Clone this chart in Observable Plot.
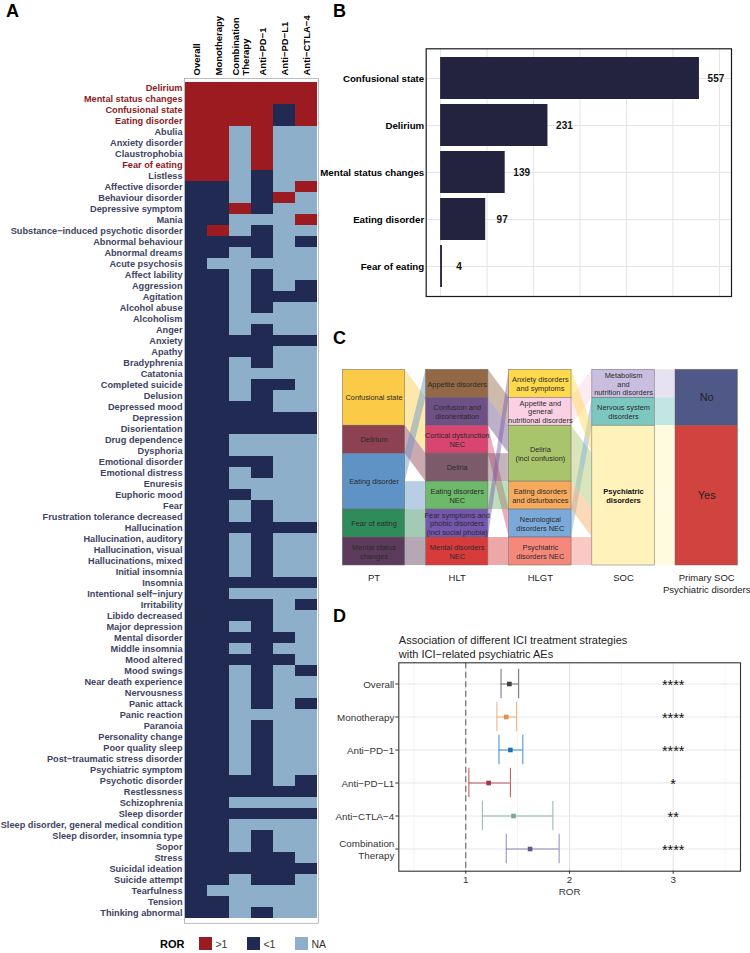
<!DOCTYPE html>
<html>
<head>
<meta charset="utf-8">
<script src="https://cdn.jsdelivr.net/npm/d3@7"></script>
<script src="https://cdn.jsdelivr.net/npm/@observablehq/plot@0.6"></script>
<style>
  body { margin: 0; background: #fff; font-family: "Liberation Sans", Arial, Helvetica, sans-serif; }
  #page { position: relative; width: 750px; height: 953px; overflow: hidden; background: #fff; }
  .panel { position: absolute; }
  .panel svg { overflow: visible; display: block; }
  .letter { position: absolute; font-weight: bold; font-size: 18px; line-height: 18px; color: #000; }
  #legend { position: absolute; left: 160px; top: 937px; display: flex; align-items: center; font-size: 10.5px; color: #333; }
  #legend .ttl { font-weight: bold; color: #000; font-size: 11px; margin-right: 15px; }
  #legend .sw { width: 13px; height: 13px; margin-right: 3px; }
  #legend .lb { margin-right: 20px; }
</style>
</head>
<body>
<div id="page"></div>
<script>
// ---------------- DATA ----------------
// Panel A: heatmap
const treatments = ["Overall", "Monotherapy", "Combination Therapy", "Anti−PD−1", "Anti−PD−L1", "Anti−CTLA−4"];
const treatmentHeaders = ["Overall", "Monotherapy", "Combination\nTherapy", "Anti−PD−1", "Anti−PD−L1", "Anti−CTLA−4"];
const aeTerms = [
  "Delirium", "Mental status changes", "Confusional state", "Eating disorder", "Abulia",
  "Anxiety disorder", "Claustrophobia", "Fear of eating", "Listless", "Affective disorder",
  "Behaviour disorder", "Depressive symptom", "Mania", "Substance−induced psychotic disorder", "Abnormal behaviour",
  "Abnormal dreams", "Acute psychosis", "Affect lability", "Aggression", "Agitation",
  "Alcohol abuse", "Alcoholism", "Anger", "Anxiety", "Apathy",
  "Bradyphrenia", "Catatonia", "Completed suicide", "Delusion", "Depressed mood",
  "Depression", "Disorientation", "Drug dependence", "Dysphoria", "Emotional disorder",
  "Emotional distress", "Enuresis", "Euphoric mood", "Fear", "Frustration tolerance decreased",
  "Hallucination", "Hallucination, auditory", "Hallucination, visual", "Hallucinations, mixed", "Initial insomnia",
  "Insomnia", "Intentional self−injury", "Irritability", "Libido decreased", "Major depression",
  "Mental disorder", "Middle insomnia", "Mood altered", "Mood swings", "Near death experience",
  "Nervousness", "Panic attack", "Panic reaction", "Paranoia", "Personality change",
  "Poor quality sleep", "Post−traumatic stress disorder", "Psychiatric symptom", "Psychotic disorder", "Restlessness",
  "Schizophrenia", "Sleep disorder", "Sleep disorder, general medical condition", "Sleep disorder, insomnia type", "Sopor",
  "Stress", "Suicidal ideation", "Suicide attempt", "Tearfulness", "Tension",
  "Thinking abnormal"
];
// one letter per treatment column: r = ROR >1, d = ROR <1, n = NA
const rorCodes = [
  "rrrrrr", "rrrrrr", "rrrrdr", "rrrrdr", "rrnrnn",
  "rrnrnn", "rrnrnn", "rrnrnn", "rrndnn", "ddndnr",
  "ddndrn", "ddrdnn", "ddnnnr", "drndnn", "ddddnd",
  "ddndnn", "dnnnnn", "ddndnn", "ddndnd", "ddnddd",
  "ddndnn", "ddnnnn", "ddndnn", "dddddd", "ddddnn",
  "ddndnn", "ddnnnn", "ddnddn", "ddndnn", "ddddnn",
  "dddddd", "dddddd", "ddnnnn", "ddnnnn", "ddddnn",
  "ddndnn", "ddnnnn", "dddnnn", "ddndnn", "ddndnn",
  "dddddd", "ddndnn", "ddndnn", "ddndnn", "ddndnn",
  "dddddd", "ddnnnn", "ddddnd", "ddddnn", "ddndnn",
  "dddddn", "ddndnn", "dddddn", "ddndnd", "ddndnn",
  "ddndnn", "ddndnd", "ddnnnn", "ddndnn", "ddndnn",
  "ddndnn", "ddndnn", "ddndnn", "ddddnd", "dddddd",
  "ddnnnn", "dddddd", "ddnnnn", "ddndnn", "ddndnn",
  "dddddn", "dddddd", "ddnddn", "dnnnnn", "ddnnnn",
  "ddndnn"
];
const rorCodeKeys = ["r", "d", "n"];
const rorLevels = [">1", "<1", "NA"];
const rorColors = ["#9B1B20", "#212A52", "#8DAFC9"];
const highlightedTerms = ["Delirium", "Mental status changes", "Confusional state", "Eating disorder", "Fear of eating"];

// Panel B: bar chart
const topTerms = ["Confusional state", "Delirium", "Mental status changes", "Eating disorder", "Fear of eating"];
const topCounts = [557, 231, 139, 97, 4];
const countGrid = [0, 100, 200, 300, 400, 500, 600];

// Panel C: alluvial / sankey
const sankeyAxes = ["PT", "HLT", "HLGT", "SOC", "Primary SOC\nPsychiatric disorders"];
const ptNodes = ["Confusional state", "Delirium", "Eating disorder", "Fear of eating", "Mental status changes"];
const ptLabels = ["Confusional state", "Delirium", "Eating disorder", "Fear of eating", "Mental status\nchanges"];
const ptColors = ["#FBCB47", "#8E4150", "#5F93C6", "#2F8C5A", "#5D3B5C"];
const hltNodes = ["Appetite disorders", "Confusion and disorientation", "Cortical dysfunction NEC", "Deliria",
  "Eating disorders NEC", "Fear symptoms and phobic disorders (incl social phobia)", "Mental disorders NEC"];
const hltLabels = ["Appetite disorders", "Confusion and\ndisorientation", "Cortical dysfunction\nNEC", "Deliria",
  "Eating disorders\nNEC", "Fear symptoms and\nphobic disorders\n(incl social phobia)", "Mental disorders\nNEC"];
const hltColors = ["#936847", "#6E5086", "#D84571", "#7C5A69", "#6DB86B", "#7657AF", "#D83B3B"];
const hlgtNodes = ["Anxiety disorders and symptoms", "Appetite and general nutritional disorders", "Deliria (incl confusion)",
  "Eating disorders and disturbances", "Neurological disorders NEC", "Psychiatric disorders NEC"];
const hlgtLabels = ["Anxiety disorders\nand symptoms", "Appetite and\ngeneral\nnutritional disorders", "Deliria\n(incl confusion)",
  "Eating disorders\nand disturbances", "Neurological\ndisorders NEC", "Psychiatric\ndisorders NEC"];
const hlgtColors = ["#FFD94C", "#FAD0E2", "#A9C56C", "#F7AA5D", "#7BA9DA", "#F5887B"];
const socNodes = ["Metabolism and nutrition disorders", "Nervous system disorders", "Psychiatric disorders"];
const socLabels = ["Metabolism\nand\nnutrition disorders", "Nervous system\ndisorders", "Psychiatric\ndisorders"];
const socColors = ["#C9BEDF", "#7DC7C1", "#FFF3BB"];
const primaryNodes = ["No", "Yes"];
const primaryLabels = ["No", "Yes"];
const primaryColors = ["#4F5887", "#D0433F"];
const termPaths = [
  ["Confusional state", "Confusion and disorientation", "Deliria (incl confusion)", "Psychiatric disorders", "Yes"],
  ["Confusional state", "Cortical dysfunction NEC", "Neurological disorders NEC", "Nervous system disorders", "No"],
  ["Delirium", "Deliria", "Deliria (incl confusion)", "Psychiatric disorders", "Yes"],
  ["Eating disorder", "Appetite disorders", "Appetite and general nutritional disorders", "Metabolism and nutrition disorders", "No"],
  ["Eating disorder", "Eating disorders NEC", "Eating disorders and disturbances", "Psychiatric disorders", "Yes"],
  ["Fear of eating", "Fear symptoms and phobic disorders (incl social phobia)", "Anxiety disorders and symptoms", "Psychiatric disorders", "Yes"],
  ["Mental status changes", "Mental disorders NEC", "Psychiatric disorders NEC", "Psychiatric disorders", "Yes"]
];
const boldNodes = ["Psychiatric disorders"];

// Panel D: forest plot
const strategies = ["Overall", "Monotherapy", "Anti−PD−1", "Anti−PD−L1", "Anti−CTLA−4", "Combination Therapy"];
const strategyLabels = ["Overall", "Monotherapy", "Anti−PD−1", "Anti−PD−L1", "Anti−CTLA−4", "Combination\nTherapy"];
const rorEstimate = [1.42, 1.39, 1.43, 1.22, 1.46, 1.62];
const rorLower = [1.34, 1.30, 1.32, 1.03, 1.16, 1.39];
const rorUpper = [1.51, 1.49, 1.55, 1.43, 1.84, 1.90];
const significance = ["****", "****", "****", "*", "**", "****"];
const pointColors = ["#404040", "#E2904F", "#1B73B4", "#9C3843", "#79A89A", "#5B5A8E"];
const barColors = ["#707070", "#EFAE7A", "#3F8DC6", "#BA5258", "#8FB6AA", "#8C8BB2"];
const rorTicks = [1, 2, 3];
const rorMinor = [0.5, 1.5, 2.5, 3.5];
const rorReference = 1;
const starColumn = 3;

// ---------------- HELPERS ----------------
const FONT = "'Liberation Sans', Arial, Helvetica, sans-serif";
const page = document.getElementById("page");
function place(node, left, top, width) {
  const d = document.createElement("div");
  d.className = "panel";
  d.style.left = left + "px";
  d.style.top = top + "px";
  d.style.width = width + "px";
  d.appendChild(node);
  page.appendChild(d);
}
function letter(ch, left, top) {
  const d = document.createElement("div");
  d.className = "letter";
  d.textContent = ch;
  d.style.left = left + "px";
  d.style.top = top + "px";
  page.appendChild(d);
}
const baseStyle = {fontFamily: FONT, background: "transparent", overflow: "visible", fontSize: "10px"};

// ---------------- PANEL A ----------------
const cells = aeTerms.flatMap((term, i) => treatments.map((t, j) => ({
  term, treatment: t, status: rorLevels[rorCodeKeys.indexOf(rorCodes[i][j])]
})));
const heat = Plot.plot({
  width: 330, height: 930,
  marginLeft: 184, marginRight: 12, marginTop: 78, marginBottom: 7.3,
  style: baseStyle,
  x: {domain: treatments, padding: 0},
  y: {domain: aeTerms, padding: 0, axis: null},
  color: {domain: rorLevels, range: rorColors},
  marks: [
    Plot.cell(cells, {x: "treatment", y: "term", fill: "status"}),
    Plot.frame({stroke: "#8a8f99", strokeWidth: 0.6}),
    Plot.axisX({anchor: "top", tickSize: 0, tickPadding: 3, tickRotate: -90, fontSize: 9.5, fontWeight: "bold",
      fill: "#000", label: null, lineHeight: 1.05, tickFormat: d => treatmentHeaders[treatments.indexOf(d)]}),
    Plot.text(aeTerms.filter(t => !highlightedTerms.includes(t)), {y: d => d, frameAnchor: "left", textAnchor: "end",
      dx: -2, fontSize: 9.2, fontWeight: "bold", fill: "#3E4462"}),
    Plot.text(highlightedTerms, {y: d => d, frameAnchor: "left", textAnchor: "end",
      dx: -2, fontSize: 9.2, fontWeight: "bold", fill: "#8C1C1E"})
  ]
});
place(heat, 0, 0, 330);

// legend for A
const legend = document.createElement("div");
legend.id = "legend";
legend.innerHTML = `<span class="ttl">ROR</span>` + rorLevels.map((lv, i) =>
  `<span class="sw" style="background:${rorColors[i]}"></span><span class="lb">${lv.replace("<", "&lt;").replace(">", "&gt;")}</span>`).join("");
page.appendChild(legend);

// ---------------- PANEL B ----------------
const bars = topTerms.map((term, i) => ({term, count: topCounts[i]}));
const barPlot = Plot.plot({
  width: 430, height: 300,
  marginLeft: 105.7, marginRight: 19, marginTop: 48.3, marginBottom: 4,
  style: baseStyle,
  x: {domain: [-31, 626], axis: null},
  y: {domain: topTerms, paddingInner: 0.1, paddingOuter: 0.15, axis: null},
  marks: [
    Plot.gridX({ticks: countGrid, stroke: "#e4e4e4", strokeOpacity: 1, strokeWidth: 1}),
    Plot.gridY({ticks: topTerms, stroke: "#e4e4e4", strokeOpacity: 1, strokeWidth: 1}),
    Plot.barX(bars, {x: "count", y: "term", fill: "#23233F"}),
    Plot.text(bars, {x: "count", y: "term", text: d => String(d.count), dx: 16.5, fontSize: 10, fontWeight: "bold", fill: "#111"}),
    Plot.text(topTerms, {y: d => d, frameAnchor: "left", textAnchor: "end", dx: -2, fontSize: 9.7, fontWeight: "bold", fill: "#000"}),
    Plot.frame({stroke: "#1a1a1a", strokeWidth: 1.2})
  ]
});
place(barPlot, 320, 0, 430);

// ---------------- PANEL C ----------------
const levels = [ptNodes, hltNodes, hlgtNodes, socNodes, primaryNodes];
const levelLabels = [ptLabels, hltLabels, hlgtLabels, socLabels, primaryLabels];
const levelColors = [ptColors, hltColors, hlgtColors, socColors, primaryColors];
const pos = termPaths.map(() => []);
for (let k = 0; k < levels.length; k++) {
  const idx = termPaths.map((p, i) => i);
  const key = i => {
    const p = termPaths[i];
    return k === 0 ? [levels[0].indexOf(p[0]), levels[1].indexOf(p[1])] : [levels[k].indexOf(p[k]), pos[i][k - 1]];
  };
  idx.sort((a, b) => { const ka = key(a), kb = key(b); return ka[0] - kb[0] || ka[1] - kb[1]; });
  idx.forEach((i, j) => { pos[i][k] = j; });
}
const nodes = [];
levels.forEach((names, k) => names.forEach((name, n) => {
  const ps = termPaths.map((p, i) => i).filter(i => termPaths[i][k] === name).map(i => pos[i][k]);
  nodes.push({axis: k, name, label: levelLabels[k][n], color: levelColors[k][n], y1: d3.min(ps), y2: d3.max(ps) + 1});
}));
const colorOf = (k, name) => levelColors[k][levels[k].indexOf(name)];
const half = 0.375;
const linkPts = [];
termPaths.forEach((p, i) => {
  for (let k = 0; k < levels.length - 1; k++) {
    const id = i + "-" + k, color = colorOf(k, p[k]);
    linkPts.push({id, color, x: k + half, y1: pos[i][k], y2: pos[i][k] + 1});
    linkPts.push({id, color, x: k + 1 - half, y1: pos[i][k + 1], y2: pos[i][k + 1] + 1});
  }
});
const totalUnits = termPaths.length;
const sankey = Plot.plot({
  width: 420, height: 300,
  style: baseStyle,
  x: {domain: [0, levels.length - 1], range: [43.5, 376.2], axis: null},
  y: {domain: [0, totalUnits], range: [69.3, 265], axis: null},
  color: {type: "identity"},
  marks: [
    Plot.area(linkPts, {x1: "x", y1: "y1", y2: "y2", z: "id", fill: "color", fillOpacity: 0.45, curve: "linear"}),
    Plot.rect(nodes, {x1: d => d.axis - half, x2: d => d.axis + half, y1: "y1", y2: "y2", fill: "color", stroke: "#666", strokeWidth: 0.5}),
    Plot.text(nodes.filter(d => d.axis < 4 && !boldNodes.includes(d.name)), {x: "axis", y: d => (d.y1 + d.y2) / 2, text: "label",
      fontSize: 7.4, lineHeight: 1.15, fill: "#2a2a2a"}),
    Plot.text(nodes.filter(d => boldNodes.includes(d.name)), {x: "axis", y: d => (d.y1 + d.y2) / 2, text: "label",
      fontSize: 7.6, fontWeight: "bold", lineHeight: 1.2, fill: "#111"}),
    Plot.text(nodes.filter(d => d.axis === 4), {x: "axis", y: d => (d.y1 + d.y2) / 2, text: "label",
      fontSize: 11, fill: "#222"}),
    Plot.text(sankeyAxes, {x: (d, i) => i, y: () => totalUnits, text: d => d, dy: 6, lineAnchor: "top",
      fontSize: 9.5, lineHeight: 1.35, fill: "#222"})
  ]
});
place(sankey, 330, 300, 420);

// ---------------- PANEL D ----------------
const forest = strategies.map((s, i) => ({
  s, est: rorEstimate[i], lo: rorLower[i], hi: rorUpper[i], sig: significance[i], pc: pointColors[i], bc: barColors[i]
}));
const forestPlot = Plot.plot({
  width: 420, height: 363,
  marginLeft: 68.3, marginRight: 10, marginTop: 72.3, marginBottom: 82.3,
  style: baseStyle,
  x: {domain: [0.354, 3.649]},
  y: {domain: strategies, paddingInner: 0, paddingOuter: 0.1},
  color: {type: "identity"},
  marks: [
    Plot.gridX({ticks: rorMinor, stroke: "#f0f0f0", strokeOpacity: 1, strokeWidth: 0.8}),
    Plot.gridX({ticks: rorTicks, stroke: "#e3e3e3", strokeOpacity: 1, strokeWidth: 1}),
    Plot.gridY({ticks: strategies, stroke: "#e8e8e8", strokeOpacity: 1, strokeWidth: 1}),
    Plot.ruleX([rorReference], {stroke: "#555", strokeWidth: 1, strokeDasharray: "6,3.5"}),
    Plot.ruleY(forest, {x1: "lo", x2: "hi", y: "s", stroke: "bc", strokeWidth: 1}),
    Plot.tickX(forest, {x: "lo", y: "s", stroke: "bc", strokeWidth: 1, insetTop: 1.8, insetBottom: 1.8}),
    Plot.tickX(forest, {x: "hi", y: "s", stroke: "bc", strokeWidth: 1, insetTop: 1.8, insetBottom: 1.8}),
    Plot.dot(forest, {x: "est", y: "s", fill: "pc", symbol: "square", r: 2.6}),
    Plot.text(forest, {x: () => starColumn, y: "s", text: "sig", fontSize: 14.5, fill: "#111", dy: 1}),
    Plot.frame({stroke: "#333", strokeWidth: 1.1}),
    Plot.axisX({ticks: rorTicks, tickFormat: d => String(d), tickSize: 3, tickPadding: 1.5, fontSize: 9.8, fill: "#333", stroke: "#333", label: null}),
    Plot.axisY({tickSize: 3, tickPadding: 1.5, fontSize: 9.8, fill: "#333", stroke: "#333", label: null, lineHeight: 1.2,
      tickFormat: d => strategyLabels[strategies.indexOf(d)]}),
    Plot.text(["ROR"], {frameAnchor: "bottom", lineAnchor: "top", dy: 17, fontSize: 9.8, fill: "#333"}),
    Plot.text(["Association of different ICI treatment strategies\nwith ICI−related psychiatric AEs"], {
      frameAnchor: "top-left", textAnchor: "start", lineAnchor: "bottom", dy: -4.5, fontSize: 11, lineHeight: 1.3, fill: "#222"})
  ]
});
place(forestPlot, 330, 590, 420);

// panel letters
letter("A", 6, 2);
letter("B", 333, 2);
letter("C", 333, 329);
letter("D", 333, 607);
</script>
</body>
</html>
